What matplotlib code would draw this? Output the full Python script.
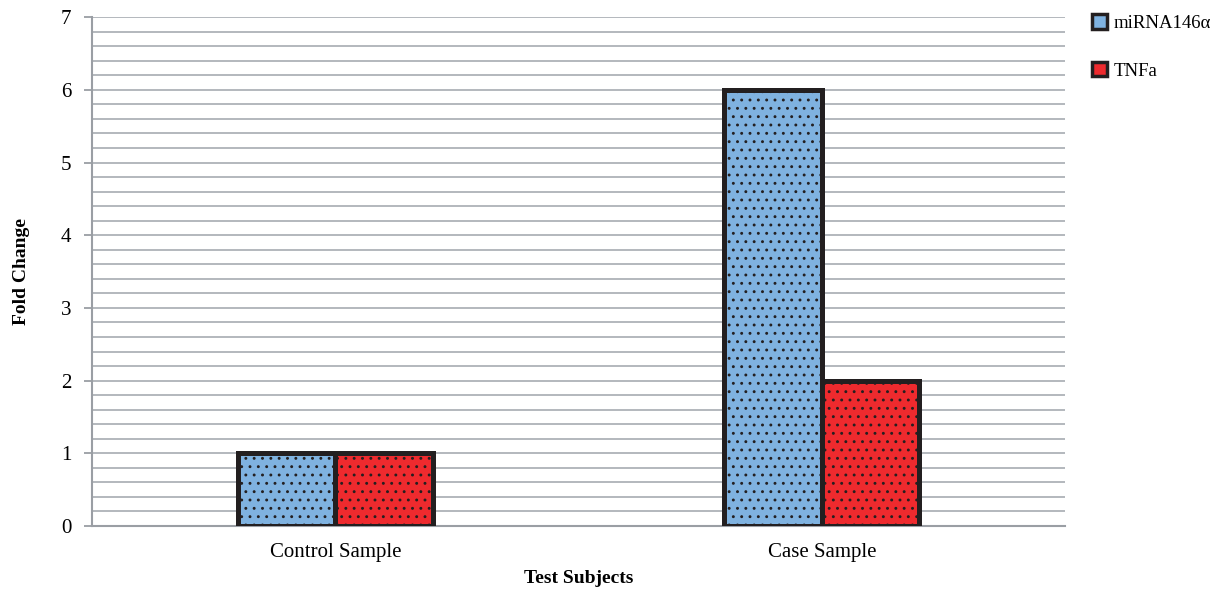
import numpy as np
import matplotlib.pyplot as plt
from matplotlib.patches import Patch
from matplotlib.ticker import MultipleLocator

# data
categories = ['Control Sample', 'Case Sample']
series_names = ['miRNA146\u03b1', 'TNFa']
mirna = [1, 6]
tnfa = [1, 2]
colors = ['#7fb2e0', '#ee2a2e']

plt.rcParams['font.family'] = ['Liberation Serif', 'DejaVu Serif']
plt.rcParams['hatch.linewidth'] = 0.9

fig = plt.figure(figsize=(12.2, 5.93), dpi=100)
ax = fig.add_axes([0.0754, 0.113, 0.7976, 0.858])

x = np.arange(len(categories))
w = 0.2
for vals, off, col, name in [(mirna, -w / 2, colors[0], series_names[0]),
                             (tnfa, w / 2, colors[1], series_names[1])]:
    ax.bar(x + off, vals, width=w, color=col, edgecolor='#231f20',
           linewidth=3.6, hatch='..', label=name, zorder=3)

ax.set_xlim(-0.5, 1.5)
ax.set_ylim(0, 7)
ax.yaxis.set_major_locator(MultipleLocator(1))
ax.yaxis.set_minor_locator(MultipleLocator(0.2))
ax.grid(True, which='both', axis='y', color='#aeb2b8', linewidth=1.3, zorder=0)
ax.set_axisbelow(True)
ax.set_xticks(x)
ax.set_xticklabels(categories, fontsize=15)
ax.tick_params(axis='x', length=0, pad=12)
ax.tick_params(axis='y', which='major', length=6, width=1.3, color='#9a9ea4',
               labelsize=15, pad=9)
ax.tick_params(axis='y', which='minor', length=0)
for s in ['top', 'right']:
    ax.spines[s].set_visible(False)
for s in ['left', 'bottom']:
    ax.spines[s].set_color('#9a9ea4')
    ax.spines[s].set_linewidth(1.5)

ax.set_xlabel('Test Subjects', fontsize=14, fontweight='bold', labelpad=6)
ax.set_ylabel('Fold Change', fontsize=14, fontweight='bold', labelpad=22)

handles = [Patch(facecolor=c, edgecolor='#231f20', linewidth=2.5) for c in colors]
fig.legend(handles, series_names, loc='upper left', bbox_to_anchor=(0.884, 0.998),
           frameon=False, fontsize=13.5, handlelength=0.8, handleheight=0.8,
           handletextpad=0.35, labelspacing=1.6, borderaxespad=0.3)

fig.savefig('out.png', dpi=100)
